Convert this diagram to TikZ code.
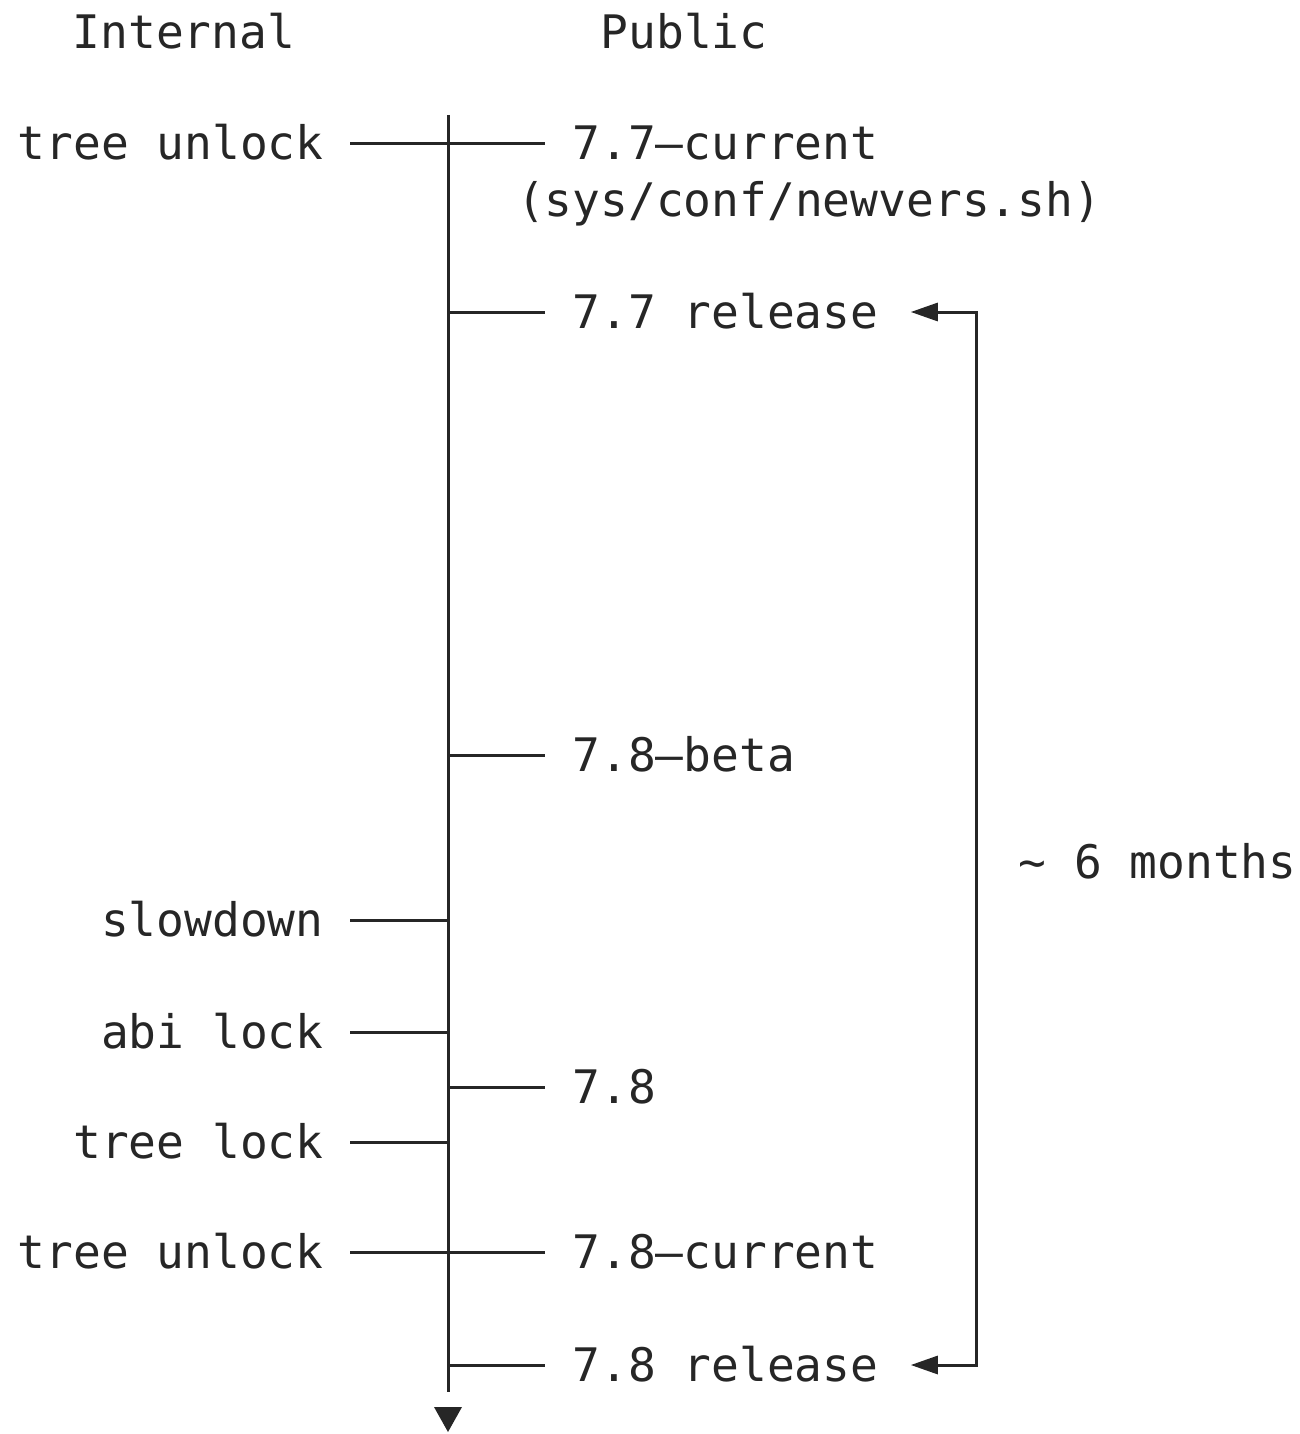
\documentclass[tikz,border=0pt]{standalone}
\usepackage{fontspec}
\setmonofont{DejaVu Sans Mono}
\usetikzlibrary{arrows.meta,positioning}
\tikzset{
    raw label/.style={inner sep=0pt, font=\ttfamily\fontsize{23.1}{28}\selectfont, text=black!85, text height=16pt, text depth=0pt},
    internal label/.style={raw label, anchor=east},
    public label/.style={raw label, anchor=west},
    time line/.style={line width=1.5pt, draw=black!85},
    span arrow/.style={time line, line join=miter, {Triangle[length=13.5pt,width=9pt]}-{Triangle[length=13.5pt,width=9pt]}}
}

\begin{document}
\begin{tikzpicture}[x=0.5pt,y=-0.5pt]
	\useasboundingbox (0,0) rectangle (1300,1434);
	% headings
	\node[raw label] (internal) at (184,33) {Internal};
	\node[raw label] (public) at (684,33) {Public};
	% time axis
	\coordinate (top) at (448,115);
	\coordinate (bottom) at (448,1392);
	\coordinate (tip) at (448,1432);
	\draw[time line] (top) -- (bottom);
	\fill[black!85] (tip) -- ++(-14,-25) -- ++(28,0) -- cycle;
	% internal events
	\coordinate (l1) at (350,143);  \coordinate (a1) at (448,143);
	\coordinate (l2) at (350,920);  \coordinate (a2) at (448,920);
	\coordinate (l3) at (350,1032); \coordinate (a3) at (448,1032);
	\coordinate (l4) at (350,1142); \coordinate (a4) at (448,1142);
	\coordinate (l5) at (350,1252); \coordinate (a5) at (448,1252);
	\node[internal label, left=13pt of l1] (unlock77) {tree unlock};
	\node[internal label, left=13pt of l2] (slowdown) {slowdown};
	\node[internal label, left=13pt of l3] (abilock) {abi lock};
	\node[internal label, left=13pt of l4] (treelock) {tree lock};
	\node[internal label, left=13pt of l5] (unlock78) {tree unlock};
	\draw[time line] (l1) -- (a1);
	\draw[time line] (l2) -- (a2);
	\draw[time line] (l3) -- (a3);
	\draw[time line] (l4) -- (a4);
	\draw[time line] (l5) -- (a5);
	% public events
	\coordinate (b1) at (448,143);  \coordinate (r1) at (545,143);
	\coordinate (b2) at (448,312);  \coordinate (r2) at (545,312);
	\coordinate (b3) at (448,755);  \coordinate (r3) at (545,755);
	\coordinate (b4) at (448,1087); \coordinate (r4) at (545,1087);
	\coordinate (b5) at (448,1252); \coordinate (r5) at (545,1252);
	\coordinate (b6) at (448,1365); \coordinate (r6) at (545,1365);
	\node[public label, right=13.5pt of r1] (current77) {7.7–current};
	\node[public label] (newvers) at ([shift={(-55.4,57)}]current77.west) {(sys/conf/newvers.sh)};
	\node[public label, right=13.5pt of r2] (release77) {7.7 release};
	\node[public label, right=13.5pt of r3] (beta78) {7.8–beta};
	\node[public label, right=13.5pt of r4] (tag78) {7.8};
	\node[public label, right=13.5pt of r5] (current78) {7.8–current};
	\node[public label, right=13.5pt of r6] (release78) {7.8 release};
	\draw[time line] (b1) -- (r1);
	\draw[time line] (b2) -- (r2);
	\draw[time line] (b3) -- (r3);
	\draw[time line] (b4) -- (r4);
	\draw[time line] (b5) -- (r5);
	\draw[time line] (b6) -- (r6);
	% release cycle
	\coordinate (c1) at (976,312);
	\coordinate (c2) at (976,1365);
	\draw[span arrow] ([xshift=16pt]release77.east) -- (c1) -- (c2) -- ([xshift=16pt]release78.east);
	\node[public label] (cycle) at (1018,862) {\textasciitilde{} 6 months};
\end{tikzpicture}
\end{document}
